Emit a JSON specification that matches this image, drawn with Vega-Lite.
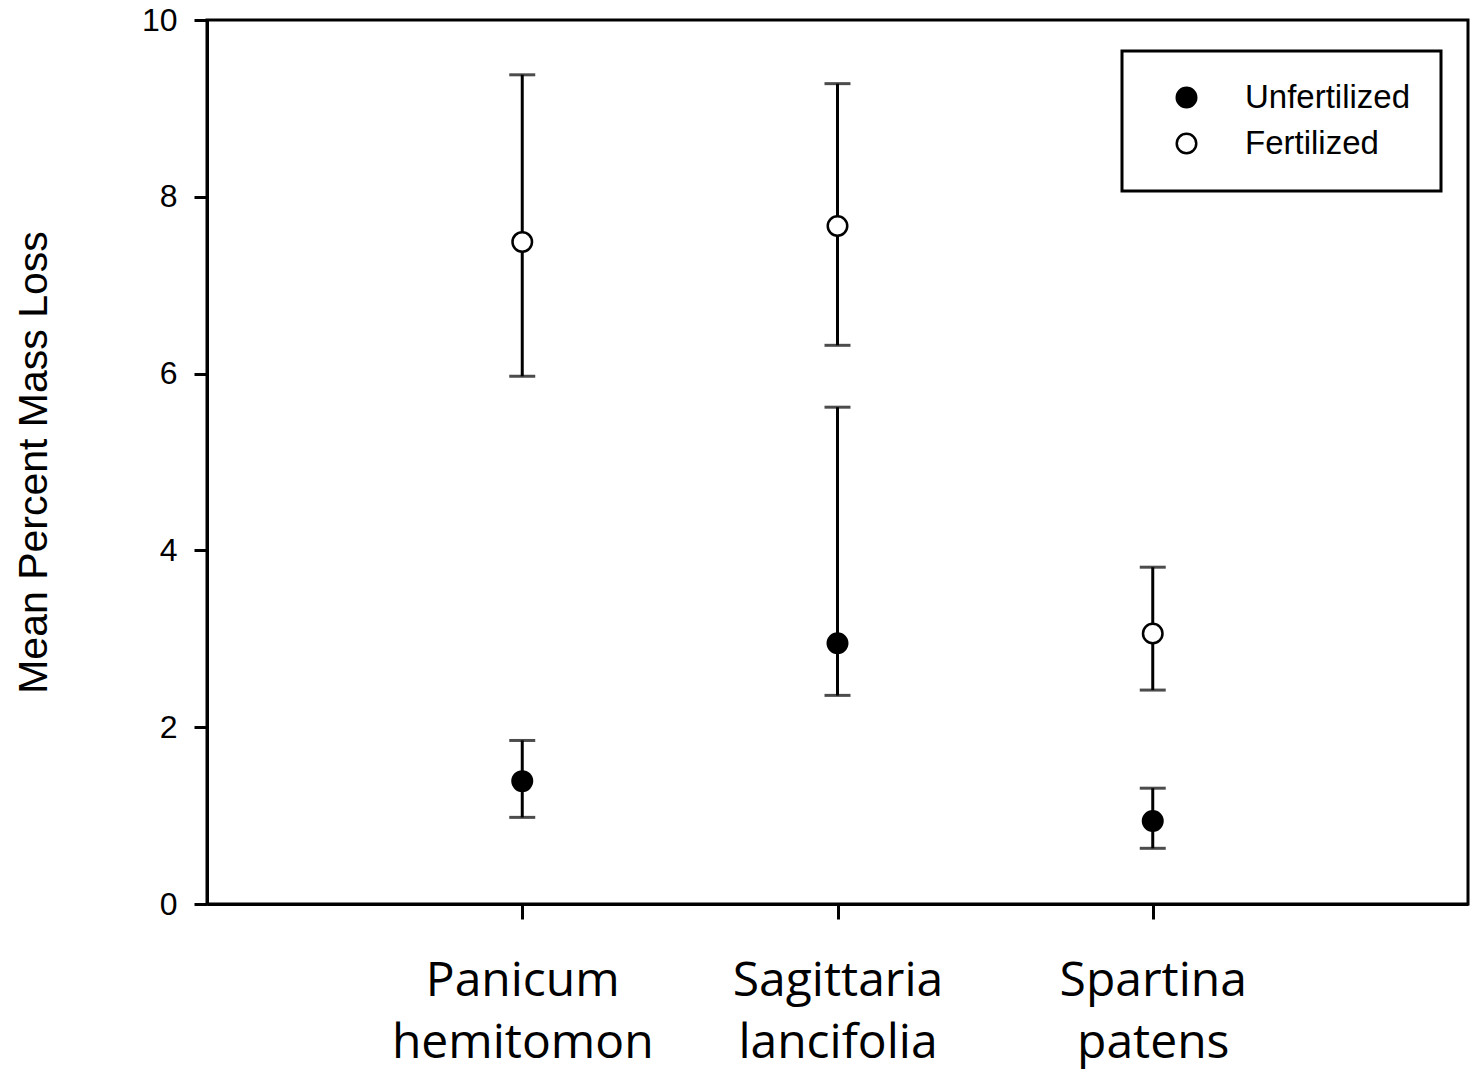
{
  "$schema": "https://vega.github.io/schema/vega-lite/v6.json",
  "width": 1261,
  "height": 884,
  "autosize": {"type": "none"},
  "padding": {"left": 207, "top": 20, "right": 13, "bottom": 168},
  "background": "white",
  "config": {
    "view": {"stroke": "black", "strokeWidth": 3},
    "axis": {
      "grid": false,
      "domainColor": "black",
      "domainWidth": 3,
      "tickColor": "black",
      "tickWidth": 3,
      "labelColor": "black",
      "titleColor": "black"
    },
    "legend": {"strokeWidth": 3}
  },
  "data": {
    "values": [
      {"species": "Panicum hemitomon", "treatment": "Unfertilized", "mean": 1.39, "low": 0.98, "high": 1.85},
      {"species": "Panicum hemitomon", "treatment": "Fertilized", "mean": 7.49, "low": 5.97, "high": 9.38},
      {"species": "Sagittaria lancifolia", "treatment": "Unfertilized", "mean": 2.95, "low": 2.36, "high": 5.62},
      {"species": "Sagittaria lancifolia", "treatment": "Fertilized", "mean": 7.67, "low": 6.32, "high": 9.28},
      {"species": "Spartina patens", "treatment": "Unfertilized", "mean": 0.94, "low": 0.63, "high": 1.31},
      {"species": "Spartina patens", "treatment": "Fertilized", "mean": 3.06, "low": 2.42, "high": 3.81}
    ]
  },
  "encoding": {
    "x": {
      "field": "species",
      "type": "nominal",
      "sort": ["Panicum hemitomon", "Sagittaria lancifolia", "Spartina patens"],
      "scale": {"type": "point", "padding": 1},
      "axis": {
        "title": null,
        "labelAngle": 0,
        "labelExpr": "split(datum.label, ' ')",
        "labelFont": "Open Sans",
        "labelFontSize": 48,
        "labelLineHeight": 62,
        "labelPadding": 38,
        "labelLimit": 500,
        "tickSize": 15
      }
    }
  },
  "layer": [
    {
      "mark": {"type": "rule", "color": "black", "strokeWidth": 3},
      "encoding": {
        "y": {
          "field": "low",
          "type": "quantitative",
          "scale": {"domain": [0, 10], "nice": false},
          "axis": {
            "values": [0, 2, 4, 6, 8, 10],
            "format": "d",
            "title": "Mean Percent Mass Loss",
            "titleFont": "Liberation Sans",
            "titleFontSize": 41,
            "titleFontWeight": "normal",
            "titlePadding": 86,
            "labelFont": "Liberation Sans",
            "labelFontSize": 32,
            "labelPadding": 17,
            "tickSize": 13
          }
        },
        "y2": {"field": "high"}
      }
    },
    {
      "mark": {"type": "tick", "color": "black", "size": 26, "thickness": 3, "orient": "horizontal"},
      "encoding": {"y": {"field": "low", "type": "quantitative"}}
    },
    {
      "mark": {"type": "tick", "color": "black", "size": 26, "thickness": 3, "orient": "horizontal"},
      "encoding": {"y": {"field": "high", "type": "quantitative"}}
    },
    {
      "mark": {"type": "circle", "size": 380, "stroke": "black", "strokeWidth": 2.5, "opacity": 1},
      "encoding": {
        "y": {"field": "mean", "type": "quantitative"},
        "fill": {
          "field": "treatment",
          "type": "nominal",
          "scale": {"domain": ["Unfertilized", "Fertilized"], "range": ["black", "white"]},
          "legend": {
            "title": null,
            "orient": "none",
            "legendX": 915,
            "legendY": 31,
            "padding": 30,
            "strokeColor": "black",
            "fillColor": "white",
            "symbolType": "circle",
            "symbolSize": 380,
            "symbolStrokeColor": "black",
            "symbolStrokeWidth": 2.5,
            "symbolOffset": 18,
            "labelFont": "Liberation Sans",
            "labelFontSize": 33,
            "labelColor": "black",
            "labelOffset": 42,
            "rowPadding": 12,
            "labelLimit": 400
          }
        }
      }
    }
  ]
}
